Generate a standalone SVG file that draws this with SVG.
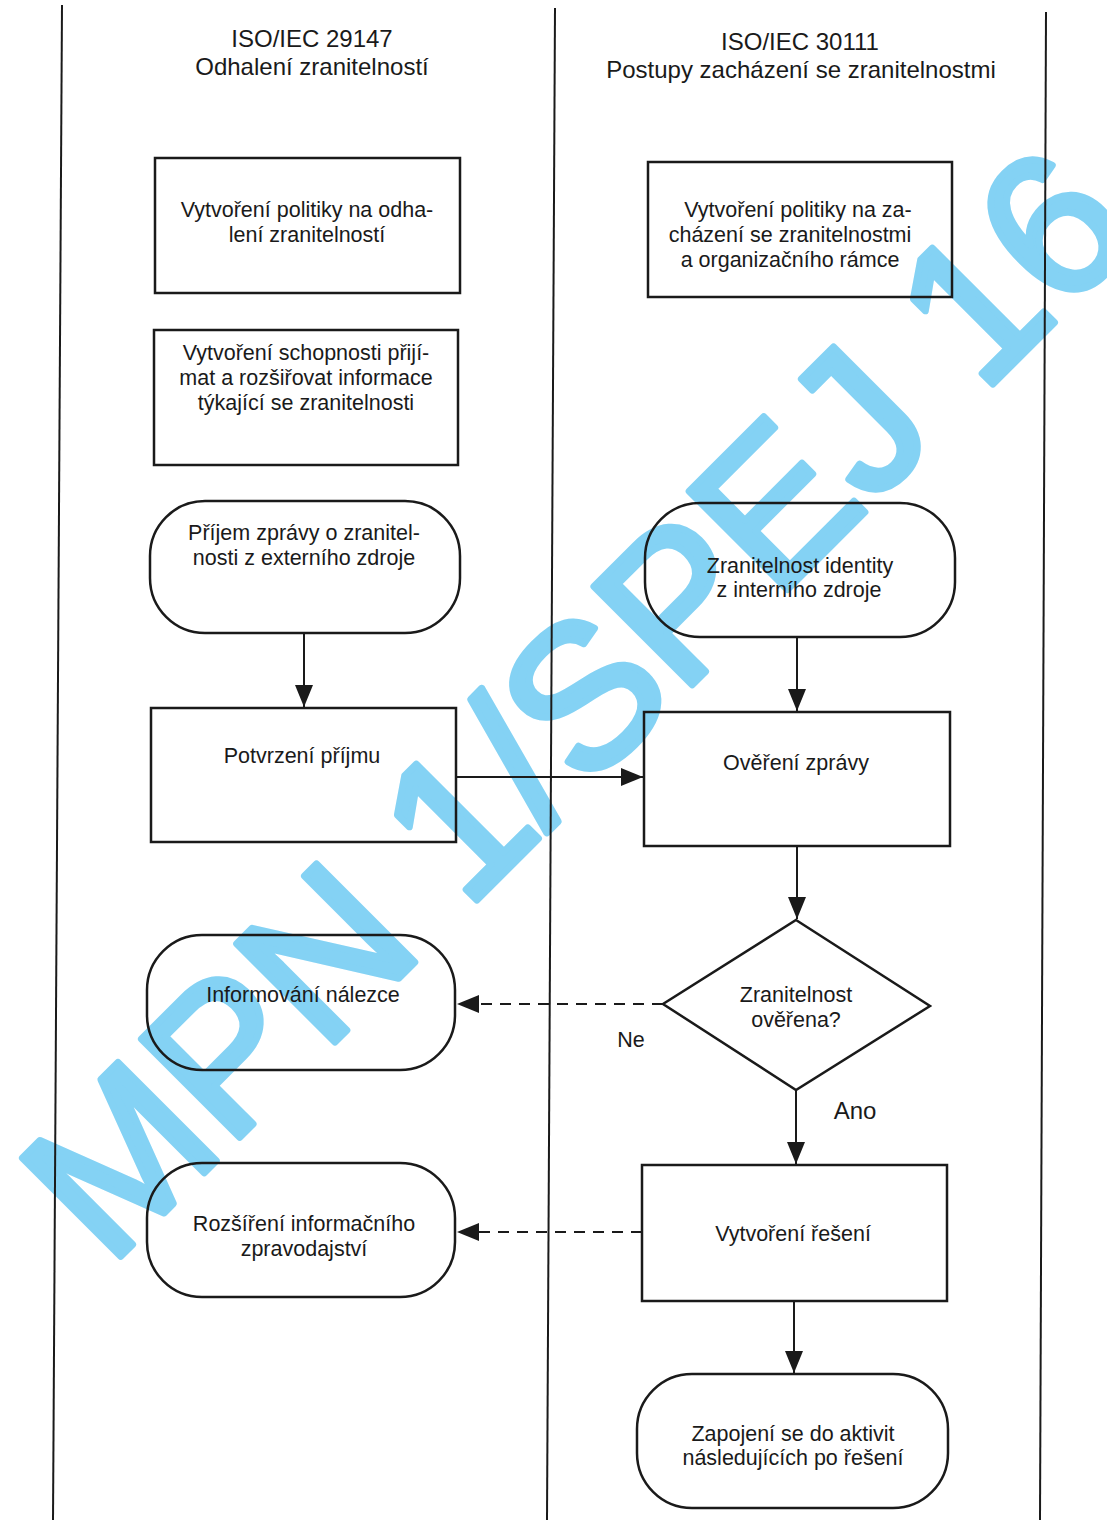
<svg xmlns="http://www.w3.org/2000/svg" width="1107" height="1520" viewBox="0 0 1107 1520">
<style>
.t{font-family:"Liberation Sans",Arial,sans-serif;font-size:21.5px;fill:#1a1a1a;text-anchor:middle}
.h{font-size:24px}
.box{fill:none;stroke:#1a1a1a;stroke-width:2.5}
.lane{stroke:#1a1a1a;stroke-width:2;fill:none}
.c{stroke:#1a1a1a;stroke-width:2;fill:none}
.d{stroke-dasharray:11 8}
.wm{font-family:"Liberation Sans",Arial,sans-serif;font-size:202px;fill:#84d2f4;stroke:#84d2f4;stroke-width:7;stroke-linejoin:round}
</style>
<defs>
<marker id="ah" markerWidth="22" markerHeight="18" refX="22" refY="9" orient="auto" markerUnits="userSpaceOnUse">
<path d="M0,0 L22,9 L0,18 z" fill="#1a1a1a"/>
</marker>
</defs>
<rect width="1107" height="1520" fill="#fff"/>
<g id="watermark">
<text class="wm" transform="translate(109,1268) rotate(-45)">MPN 1/SPEJ 16</text>
</g>
<g id="lanes">
<line class="lane" x1="62" y1="5" x2="53" y2="1520"/>
<line class="lane" x1="555" y1="8" x2="547" y2="1520"/>
<line class="lane" x1="1046" y1="12" x2="1040" y2="1520"/>
</g>
<g id="headers">
<text class="t h" x="312" y="47">ISO/IEC 29147</text>
<text class="t h" x="312" y="75">Odhalení zranitelností</text>
<text class="t h" x="800" y="50">ISO/IEC 30111</text>
<text class="t h" x="801" y="78">Postupy zacházení se zranitelnostmi</text>
</g>
<g id="connectors">
<line class="c" x1="304" y1="633" x2="304" y2="707" marker-end="url(#ah)"/>
<line class="c" x1="797" y1="637" x2="797" y2="711" marker-end="url(#ah)"/>
<line class="c" x1="456" y1="777" x2="643" y2="777" marker-end="url(#ah)"/>
<line class="c" x1="797" y1="846" x2="797" y2="919" marker-end="url(#ah)"/>
<line class="c d" x1="663" y1="1004" x2="457" y2="1004" marker-end="url(#ah)"/>
<line class="c" x1="796" y1="1090" x2="796" y2="1164" marker-end="url(#ah)"/>
<line class="c d" x1="642" y1="1232" x2="457" y2="1232" marker-end="url(#ah)"/>
<line class="c" x1="794" y1="1301" x2="794" y2="1373" marker-end="url(#ah)"/>
</g>
<g id="n1">
<rect class="box" x="155" y="158" width="305" height="135"/>
<text class="t" x="307" y="217">Vytvoření politiky na odha-</text>
<text class="t" x="307" y="242">lení zranitelností</text>
</g>
<g id="n2">
<rect class="box" x="154" y="330" width="304" height="135"/>
<text class="t" x="306" y="360">Vytvoření schopnosti přijí-</text>
<text class="t" x="306" y="385">mat a rozšiřovat informace</text>
<text class="t" x="306" y="410">týkající se zranitelnosti</text>
</g>
<g id="n3">
<rect class="box" x="150" y="501" width="310" height="132" rx="55" ry="55"/>
<text class="t" x="304" y="540">Příjem zprávy o zranitel-</text>
<text class="t" x="304" y="565">nosti z externího zdroje</text>
</g>
<g id="n4">
<rect class="box" x="151" y="708" width="305" height="134"/>
<text class="t" x="302" y="763">Potvrzení příjmu</text>
</g>
<g id="n5">
<rect class="box" x="147" y="935" width="308" height="135" rx="55" ry="55"/>
<text class="t" x="303" y="1002">Informování nálezce</text>
</g>
<g id="n6">
<rect class="box" x="147" y="1163" width="308" height="134" rx="55" ry="55"/>
<text class="t" x="304" y="1231">Rozšíření informačního</text>
<text class="t" x="304" y="1256">zpravodajství</text>
</g>
<g id="n7">
<rect class="box" x="648" y="162" width="304" height="135"/>
<text class="t" x="798" y="217">Vytvoření politiky na za-</text>
<text class="t" x="790" y="242">cházení se zranitelnostmi</text>
<text class="t" x="790" y="267">a organizačního rámce</text>
</g>
<g id="n8">
<rect class="box" x="645" y="503" width="310" height="134" rx="55" ry="55"/>
<text class="t" x="800" y="573">Zranitelnost identity</text>
<text class="t" x="799" y="597">z interního zdroje</text>
</g>
<g id="n9">
<rect class="box" x="644" y="712" width="306" height="134"/>
<text class="t" x="796" y="770">Ověření zprávy</text>
</g>
<g id="n10">
<polygon class="box" points="796,920 930,1006 796,1090 663,1004"/>
<text class="t" x="796" y="1002">Zranitelnost</text>
<text class="t" x="796" y="1027">ověřena?</text>
</g>
<g id="n11">
<rect class="box" x="642" y="1165" width="305" height="136"/>
<text class="t" x="793" y="1241">Vytvoření řešení</text>
</g>
<g id="n12">
<rect class="box" x="637" y="1374" width="311" height="134" rx="55" ry="55"/>
<text class="t" x="793" y="1441">Zapojení se do aktivit</text>
<text class="t" x="793" y="1465">následujících po řešení</text>
</g>
<g id="labels">
<text class="t" x="631" y="1047">Ne</text>
<text class="t h" x="855" y="1119">Ano</text>
</g>
</svg>
